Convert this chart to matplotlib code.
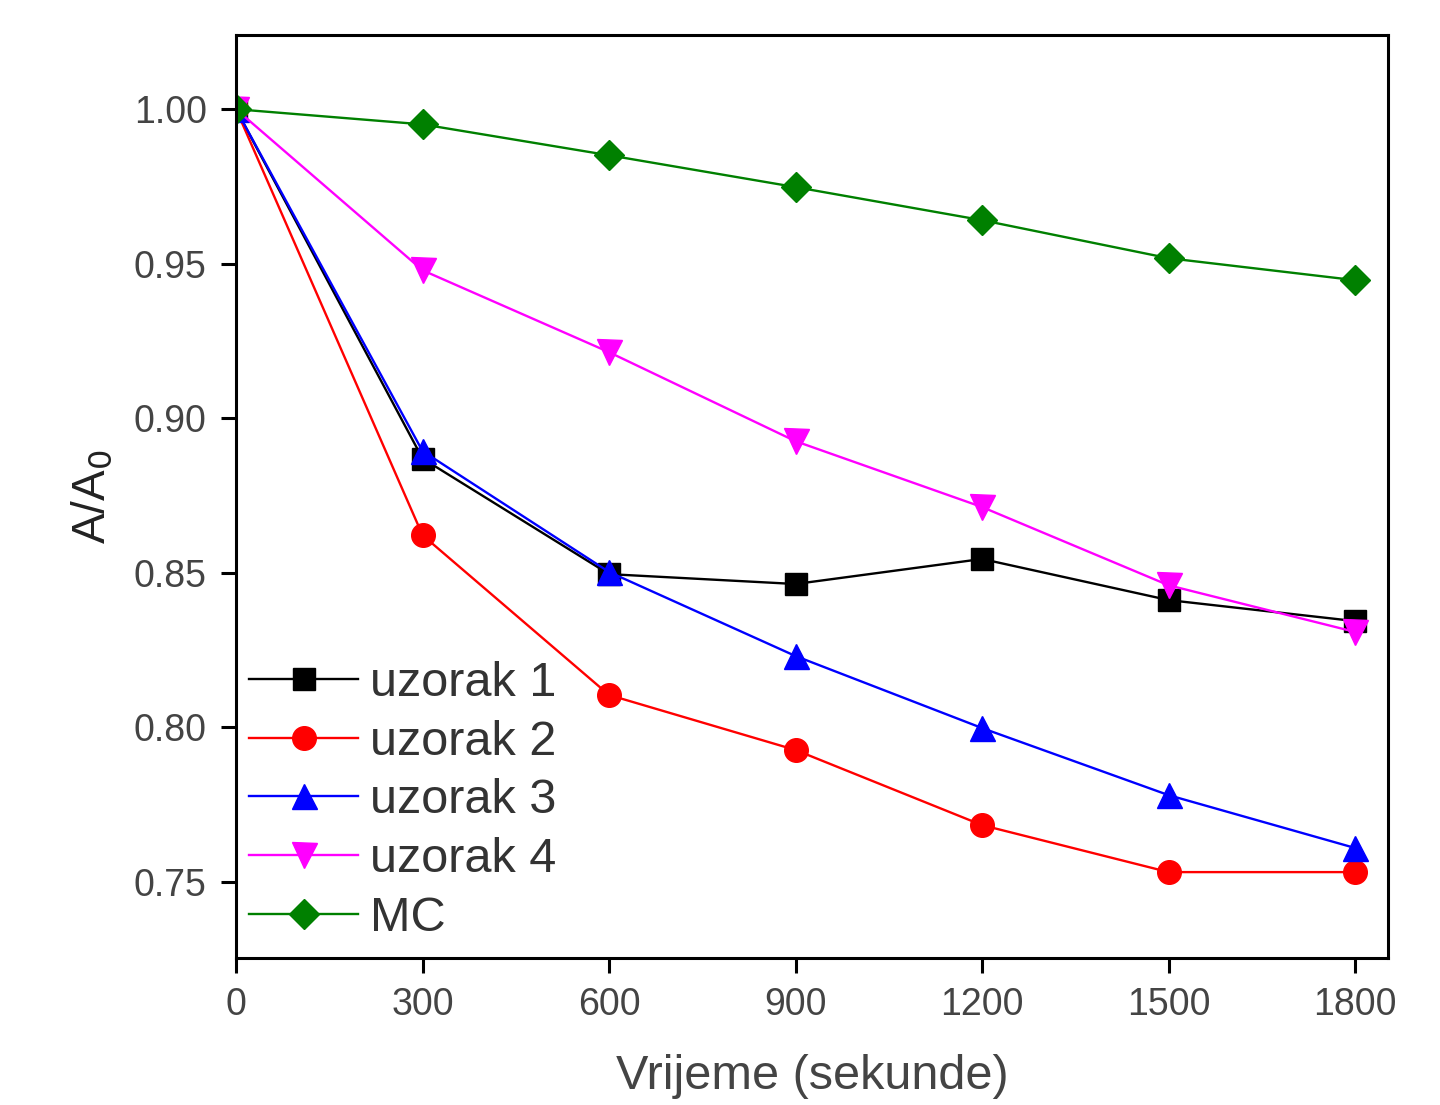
import numpy as np
import matplotlib
matplotlib.use('Agg')
import matplotlib.pyplot as plt

plt.rcParams['font.family'] = ['Liberation Sans', 'DejaVu Sans']

vrijeme = [0, 300, 600, 900, 1200, 1500, 1800]
uzorak1 = [1.000, 0.887, 0.8496, 0.8464, 0.8545, 0.8412, 0.8344]
uzorak2 = [1.000, 0.8622, 0.8105, 0.7927, 0.7684, 0.7532, 0.7532]
uzorak3 = [1.000, 0.8894, 0.8503, 0.8231, 0.7998, 0.7781, 0.7610]
uzorak4 = [1.000, 0.9479, 0.9214, 0.8926, 0.8713, 0.8460, 0.8309]
mc = [1.000, 0.9951, 0.9851, 0.9748, 0.9641, 0.9518, 0.9447]

serije = [
    ('uzorak 1', uzorak1, 'black', 's', 16),
    ('uzorak 2', uzorak2, 'red', 'o', 17),
    ('uzorak 3', uzorak3, 'blue', '^', 18),
    ('uzorak 4', uzorak4, 'magenta', 'v', 18),
    ('MC', mc, 'green', 'D', 15),
]

fig = plt.figure(figsize=(14.4, 11.05), dpi=100)
ax = fig.add_axes([0.1639, 0.133, 0.80, 0.8353])

for ime, vals, boja, mk, ms in serije:
    ax.plot(vrijeme, vals, color=boja, marker=mk, markersize=ms, lw=1.7, label=ime)

ax.set_xlim(0, 1853)
ax.set_ylim(0.7254, 1.024)
ax.set_xticks(vrijeme)
ax.set_yticks([0.75, 0.80, 0.85, 0.90, 0.95, 1.00])
ax.set_yticklabels(['0.75', '0.80', '0.85', '0.90', '0.95', '1.00'])
ax.tick_params(direction='out', length=11, width=2.2, labelsize=27, labelcolor='#444444', pad=10)
for s in ax.spines.values():
    s.set_linewidth(2.2)

ax.set_xlabel('Vrijeme (sekunde)', fontsize=35, color='#444444', labelpad=22)
ax.set_ylabel('A/A$_0$', fontsize=33, color='#222222', labelpad=14)

ax.legend(loc='lower left', bbox_to_anchor=(0.005, 0.011), frameon=False, fontsize=35,
          handlelength=2.25, handletextpad=0.23, labelspacing=0.28, borderaxespad=0.15,
          borderpad=0.0, labelcolor='#333333')

fig.savefig('out.png', dpi=100)
